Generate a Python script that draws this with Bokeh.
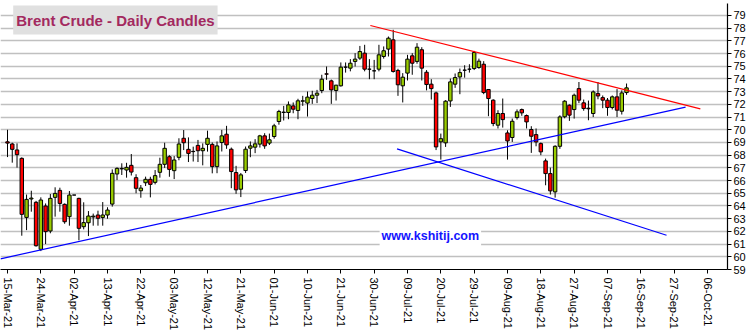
from bokeh.plotting import figure
from bokeh.models import ColumnDataSource, Range1d, FixedTicker, Label
from bokeh.embed import file_html
from bokeh.resources import INLINE

# ---- data (trading-day index, OHLC) ----
opens = [69.05, 68.88, 68.41, 67.75, 63.1, 64.55, 64.29, 60.59, 64.0, 62.03,
         64.68, 65.23, 64.13, 63.16, 64.86, 64.6, 62.37, 62.68, 63.14, 63.29,
         63.1, 63.29, 64.15, 66.52, 66.92, 66.83, 67.2, 66.23, 65.2, 65.83,
         66.1, 65.86, 66.65, 67.28, 67.88, 66.78, 67.83, 69.33, 68.46, 68.3,
         68.77, 68.35, 68.85, 68.85, 67.1, 69.0, 69.65, 68.47, 66.63, 65.32,
         66.79, 68.55, 68.63, 68.87, 69.52, 68.95, 69.47, 70.65, 71.36, 71.36,
         71.88, 71.52, 72.25, 72.1, 72.46, 72.72, 73.09, 74.4, 73.85, 73.09,
         73.46, 74.93, 74.85, 75.38, 75.64, 76.03, 74.77, 74.64, 74.77, 75.77,
         76.35, 77.08, 74.67, 73.46, 74.46, 75.82, 75.38, 76.3, 74.53, 73.59,
         72.9, 69.05, 68.97, 72.27, 73.59, 74.16, 74.69, 74.77, 74.82, 74.9,
         75.16, 73.17, 72.33, 70.36, 71.28, 69.75, 69.39, 70.96, 71.59, 71.12,
         70.02, 69.62, 68.91, 67.55, 66.55, 65.11, 68.7, 71.02, 71.93, 71.59,
         73.24, 72.12, 71.7, 71.28, 72.85, 72.53, 72.33, 71.75, 72.59, 71.46,
         72.93]
highs = [70.0, 68.98, 68.93, 67.83, 64.9, 65.2, 64.4, 64.68, 64.2, 64.94,
         65.47, 65.44, 64.2, 65.18, 64.86, 64.65, 64.29, 63.6, 63.4, 63.63,
         64.31, 63.9, 66.88, 67.04, 67.36, 67.4, 68.09, 66.5, 65.65, 66.31,
         66.3, 66.83, 67.8, 68.98, 68.0, 67.93, 69.33, 69.98, 69.4, 68.67,
         69.2, 68.93, 69.93, 69.0, 69.08, 69.99, 70.31, 68.6, 67.16, 66.6,
         68.68, 69.08, 69.26, 69.6, 69.73, 69.7, 70.47, 71.57, 71.88, 72.23,
         72.15, 72.44, 72.67, 73.01, 73.07, 73.14, 74.33, 74.98, 73.95, 73.54,
         75.3, 75.3, 75.56, 76.03, 76.6, 76.69, 75.56, 75.5, 76.69, 76.56,
         77.34, 77.87, 74.8, 74.46, 75.9, 76.03, 76.82, 76.5, 74.7, 73.98,
         73.0, 69.7, 72.33, 74.03, 74.43, 74.82, 75.08, 75.16, 76.21, 75.6,
         75.4, 73.2, 72.4, 71.54, 72.46, 69.96, 70.88, 71.6, 71.67, 71.2,
         70.28, 70.1, 69.0, 67.73, 67.02, 68.78, 71.14, 72.33, 72.0, 72.85,
         73.76, 72.38, 72.3, 73.1, 73.76, 72.7, 72.5, 72.7, 73.2, 73.1,
         73.64]
lows = [67.85, 67.41, 67.02, 61.66, 62.1, 63.55, 60.8, 60.45, 61.0, 61.85,
        63.16, 63.55, 62.6, 62.45, 64.86, 61.3, 62.16, 61.63, 62.45, 62.45,
        62.45, 63.0, 63.95, 66.04, 66.44, 66.23, 66.4, 65.0, 64.65, 65.57,
        64.68, 65.7, 66.23, 67.0, 66.3, 66.12, 67.6, 68.4, 67.46, 67.5,
        67.46, 67.2, 68.28, 66.57, 66.58, 68.29, 68.5, 65.4, 64.96, 64.7,
        66.6, 67.84, 68.16, 68.6, 68.5, 68.8, 69.3, 70.4, 70.73, 70.83,
        71.3, 70.83, 71.88, 71.04, 72.04, 72.1, 72.88, 73.93, 72.04, 72.3,
        73.4, 74.5, 74.6, 74.98, 75.5, 74.6, 73.98, 73.98, 74.6, 75.6,
        75.77, 74.5, 72.67, 72.15, 73.88, 74.33, 75.2, 73.88, 73.1, 72.38,
        68.4, 67.65, 68.65, 71.8, 73.3, 72.8, 74.1, 74.5, 74.7, 74.8,
        72.8, 71.07, 70.28, 70.1, 70.17, 67.65, 69.04, 70.8, 71.1, 70.1,
        68.18, 68.7, 68.0, 65.63, 64.9, 64.66, 68.5, 70.9, 70.7, 70.88,
        72.1, 71.5, 70.75, 71.0, 72.4, 71.7, 71.1, 71.6, 71.0, 71.2,
        72.75]
closes = [68.95, 68.46, 68.04, 63.34, 64.52, 64.62, 60.87, 64.47, 61.98, 64.6,
          64.99, 64.2, 62.76, 64.86, 64.86, 62.24, 62.69, 63.21, 63.2, 63.03,
          63.29, 63.68, 66.57, 66.96, 66.96, 67.04, 66.67, 65.39, 65.41, 66.1,
          65.7, 66.39, 67.28, 68.54, 66.88, 67.62, 68.88, 68.98, 68.14, 68.28,
          68.35, 68.54, 69.33, 67.1, 68.73, 69.52, 68.81, 66.71, 65.27, 66.45,
          68.47, 68.73, 68.89, 69.52, 68.73, 69.21, 70.31, 71.44, 71.39, 71.96,
          71.62, 72.28, 72.28, 72.57, 72.72, 72.88, 73.98, 74.38, 73.14, 73.51,
          74.93, 74.93, 75.24, 75.56, 76.16, 74.77, 74.77, 74.64, 75.9, 76.22,
          77.21, 74.59, 73.54, 74.14, 75.56, 75.24, 76.5, 74.85, 73.56, 73.24,
          68.65, 69.3, 72.25, 73.77, 74.11, 74.5, 74.69, 74.77, 76.08, 75.4,
          72.93, 72.46, 70.49, 71.28, 70.8, 69.12, 70.67, 71.41, 71.33, 70.62,
          69.49, 69.04, 68.26, 66.55, 65.19, 68.7, 71.01, 72.25, 71.15, 72.72,
          72.33, 71.67, 71.65, 72.98, 72.66, 72.33, 71.75, 72.59, 71.54, 72.9,
          73.3]
day_index = list(range(len(opens)))

tick_index = list(range(0, 148, 7))
tick_labels = ["15-Mar-21", "24-Mar-21", "02-Apr-21", "13-Apr-21", "22-Apr-21",
               "03-May-21", "12-May-21", "21-May-21", "01-Jun-21", "10-Jun-21",
               "21-Jun-21", "30-Jun-21", "09-Jul-21", "20-Jul-21", "29-Jul-21",
               "09-Aug-21", "18-Aug-21", "27-Aug-21", "07-Sep-21", "16-Sep-21",
               "27-Sep-21", "06-Oct-21"]
price_ticks = list(range(59, 80))

# trend lines (index, price)
red_line_x = [76.2, 145.5]
red_line_y = [78.21, 71.65]
blue_up_x = [-1.47, 142.4]
blue_up_y = [59.84, 71.78]
blue_down_x = [81.8, 138.4]
blue_down_y = [68.5, 61.7]

FONT = "Liberation Sans"

tops = [max(o, c) for o, c in zip(opens, closes)]
bottoms = [min(o, c) for o, c in zip(opens, closes)]
colors = ["#99cc00" if c >= o else "#ff0000" for o, c in zip(opens, closes)]
src = ColumnDataSource(dict(x=day_index, o=opens, h=highs, l=lows, c=closes,
                            top=tops, bottom=bottoms, color=colors))

p = figure(width=752, height=336, output_backend="svg", toolbar_location=None,
           x_range=Range1d(-1.47, 151.2), y_range=Range1d(59, 79.94),
           y_axis_location="right", min_border_left=0, min_border_right=25,
           min_border_top=3, min_border_bottom=67)
p.outline_line_color = None
p.background_fill_color = "white"
p.border_fill_color = "white"

p.xgrid.visible = False
p.ygrid.ticker = FixedTicker(ticks=price_ticks)
p.ygrid.grid_line_color = "#c0c0c0"
p.ygrid.grid_line_width = 1.3

p.yaxis.ticker = FixedTicker(ticks=price_ticks)
p.xaxis.ticker = FixedTicker(ticks=tick_index)
p.xaxis.major_label_overrides = {i: s for i, s in zip(tick_index, tick_labels)}
p.xaxis.major_label_orientation = "vertical"
for ax in (p.xaxis, p.yaxis):
    ax.axis_line_color = "black"
    ax.axis_line_width = 1.2
    ax.major_tick_line_color = "black"
    ax.major_tick_out = 4
    ax.major_tick_in = 0
    ax.minor_tick_line_color = None
    ax.major_label_text_font = FONT
    ax.major_label_text_font_size = "11px"
    ax.major_label_text_color = "black"
p.yaxis.major_label_standoff = 2
p.xaxis.major_label_standoff = 4

p.segment(x0="x", y0="l", x1="x", y1="h", source=src, line_color="black", line_width=1)
p.vbar(x="x", width=0.72, top="top", bottom="bottom", source=src,
       fill_color="color", line_color="black", line_width=1)

p.line(red_line_x, red_line_y, line_color="#ff0000", line_width=1.2)
p.line(blue_up_x, blue_up_y, line_color="#0000ff", line_width=1.2)
p.line(blue_down_x, blue_down_y, line_color="#0000ff", line_width=1.2)

title = Label(x=1.2, y=79.78, text="Brent Crude - Daily Candles",
              text_font=FONT, text_font_size="15px", text_font_style="bold",
              text_color="#a3295f", text_align="left", text_baseline="top",
              background_fill_color="#e0e0e0", padding=(3, 6))
p.add_layout(title)

wm = Label(x=88.8, y=61.67, text="www.kshitij.com", text_font=FONT,
           text_font_size="12.5px", text_font_style="bold", text_color="#1414ff",
           text_align="center", text_baseline="middle",
           background_fill_color="white", padding=(2, 4))
p.add_layout(wm)

open("out.html", "w").write(file_html(p, INLINE))
